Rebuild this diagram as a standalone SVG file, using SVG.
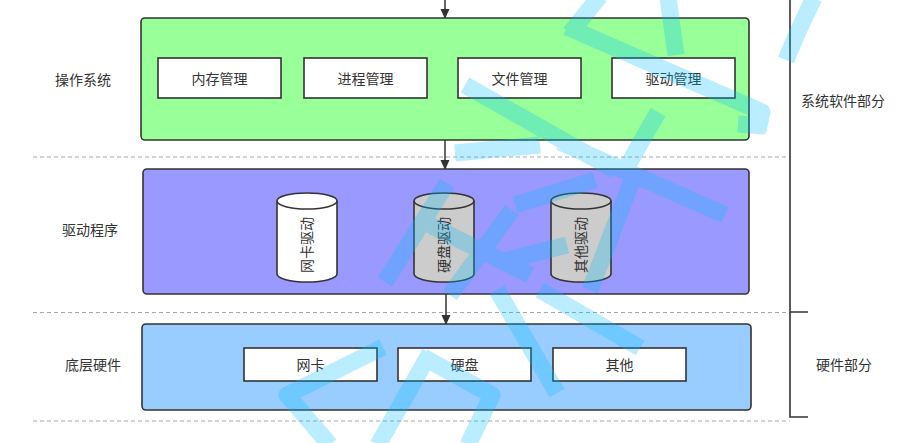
<svg xmlns="http://www.w3.org/2000/svg" width="912" height="443" viewBox="0 0 912 443">
<style>
text{font-family:"Liberation Sans","Noto Sans CJK SC",sans-serif;font-size:14px;fill:#333;text-anchor:middle;dominant-baseline:central}
.layer{stroke:#333;stroke-width:1.6}
.box{fill:#fff;stroke:#333;stroke-width:1.6}
.cyl{stroke:#333;stroke-width:1.6}
.dash{stroke:#a6a6a6;stroke-width:1;stroke-dasharray:4 3;fill:none}
.conn{stroke:#333;stroke-width:1.5;fill:none}
.wm{stroke:#00bfff;stroke-width:17;fill:none;stroke-linejoin:round}
</style>
<defs>
<marker id="arr" viewBox="0 0 10 10" refX="9" refY="5" markerWidth="10" markerHeight="10" markerUnits="userSpaceOnUse" orient="auto">
<path d="M0,0.5 L10,5 L0,9.5 z" fill="#333"/>
</marker>
</defs>
<rect width="912" height="443" fill="#fff"/>
<g id="separators">
<line class="dash" x1="33" y1="157" x2="790" y2="157"/>
<line class="dash" x1="33" y1="312.5" x2="790" y2="312.5"/>
<line class="dash" x1="33" y1="421" x2="790" y2="421"/>
</g>
<g id="connectors">
<line class="conn" x1="445" y1="0" x2="445" y2="18" marker-end="url(#arr)"/>
<line class="conn" x1="445" y1="140" x2="445" y2="169" marker-end="url(#arr)"/>
<line class="conn" x1="446" y1="294" x2="446" y2="324" marker-end="url(#arr)"/>
</g>
<g id="layer-os">
<rect class="layer" x="141" y="18" width="608" height="122" rx="4" fill="#99ff99"/>
<text x="83" y="80">操作系统</text>
</g>
<g id="mem"><rect class="box" x="158" y="58" width="123" height="40"/><text x="219.5" y="78.5">内存管理</text></g>
<g id="proc"><rect class="box" x="304" y="58" width="123" height="40"/><text x="365.5" y="78.5">进程管理</text></g>
<g id="file"><rect class="box" x="458" y="58" width="123" height="40"/><text x="519.5" y="78.5">文件管理</text></g>
<g id="drvmgr"><rect class="box" x="612" y="58" width="123" height="40"/><text x="673.5" y="78.5">驱动管理</text></g>
<g id="layer-driver">
<rect class="layer" x="143" y="169" width="606" height="125" rx="4" fill="#9999ff"/>
<text x="90" y="230">驱动程序</text>
</g>
<g id="nic-driver">
<path class="cyl" fill="#fff" d="M277,201 a30,8 0 0 1 60,0 v73 a30,8 0 0 1 -60,0 z"/>
<path class="cyl" fill="none" d="M277,201 a30,8 0 0 0 60,0"/>
<text transform="translate(307,245) rotate(-90)">网卡驱动</text>
</g>
<g id="disk-driver">
<path class="cyl" fill="#ccc" d="M414,201 a30,8 0 0 1 60,0 v73 a30,8 0 0 1 -60,0 z"/>
<path class="cyl" fill="none" d="M414,201 a30,8 0 0 0 60,0"/>
<text transform="translate(444,245) rotate(-90)">硬盘驱动</text>
</g>
<g id="other-driver">
<path class="cyl" fill="#ccc" d="M551,201 a30,8 0 0 1 60,0 v73 a30,8 0 0 1 -60,0 z"/>
<path class="cyl" fill="none" d="M551,201 a30,8 0 0 0 60,0"/>
<text transform="translate(581,245) rotate(-90)">其他驱动</text>
</g>
<g id="layer-hw">
<rect class="layer" x="142" y="324" width="609" height="86" rx="4" fill="#99ccff"/>
<text x="93" y="365">底层硬件</text>
</g>
<g id="nic"><rect class="box" x="244" y="348" width="133" height="33"/><text x="310.5" y="364.5">网卡</text></g>
<g id="disk"><rect class="box" x="398" y="348" width="133" height="33"/><text x="464.5" y="364.5">硬盘</text></g>
<g id="other"><rect class="box" x="553" y="348" width="133" height="33"/><text x="619.5" y="364.5">其他</text></g>
<g id="bracket">
<path d="M790,0 V417 H808 M790,312 H808" fill="none" stroke="#333" stroke-width="1.6"/>
<text x="843" y="101">系统软件部分</text>
<text x="844" y="365">硬件部分</text>
</g>
<g id="watermark" opacity="0.27">
<path class="wm" d="M600,-4 L570,33"/>
<path class="wm" d="M567,27 L762,112 L758,130"/>
<path class="wm" d="M766,126 L738,124"/>
<path class="wm" d="M668,-2 L676,55"/>
<path class="wm" d="M814,-2 Q798,30 786,60"/>
<path class="wm" d="M465,85 L615,170"/>
<path class="wm" d="M658,112 L628,165"/>
<path class="wm" d="M455,153 L540,145"/>
<path class="wm" d="M560,142 L725,215"/>
<path class="wm" d="M633,178 L590,290"/>
<path class="wm" d="M515,205 L595,180"/>
<path class="wm" d="M500,262 L567,245"/>
<path class="wm" d="M512,210 L450,295"/>
<path class="wm" d="M447,183 L385,282"/>
<path class="wm" d="M430,225 L530,275"/>
<path class="wm" d="M497,290 L557,393"/>
<path class="wm" d="M540,290 L640,348"/>
<path class="wm" d="M383,347 L287,395 L330,445"/>
<path class="wm" d="M430,353 L378,445"/>
<path class="wm" d="M423,357 L492,395 L468,445"/>
</g>
</svg>
